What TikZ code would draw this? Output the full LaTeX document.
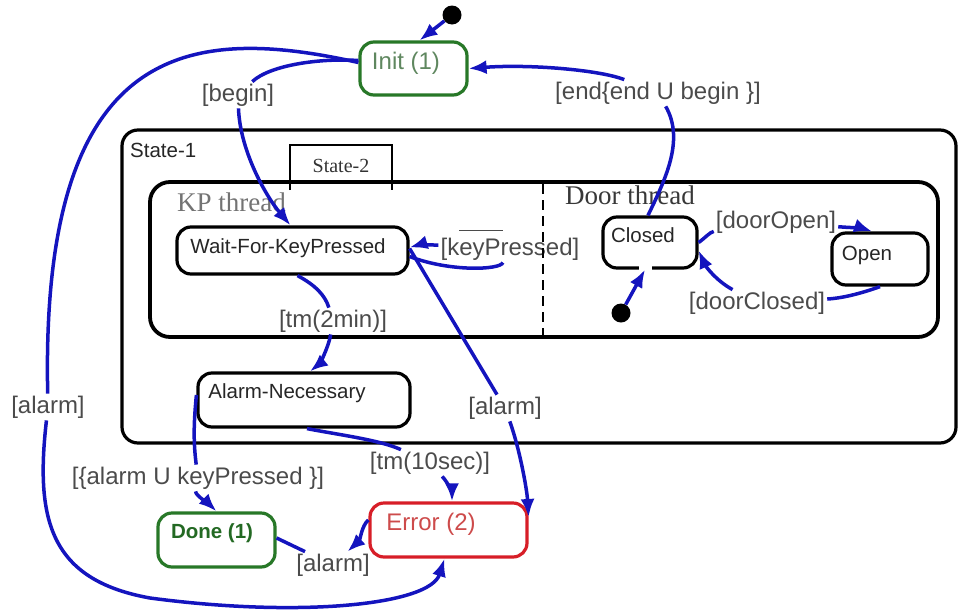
\documentclass[tikz,border=0pt]{standalone}
\usepackage{fontspec}
\newfontfamily\lsans{Liberation Sans}
\newfontfamily\lserif{Liberation Serif}
\usetikzlibrary{arrows.meta}
\definecolor{arrblue}{RGB}{20,20,190}
\definecolor{lblgray}{RGB}{75,75,75}
\definecolor{initgreen}{RGB}{95,135,95}
\definecolor{boxgreen}{RGB}{40,120,40}
\definecolor{donegreen}{RGB}{35,105,35}
\definecolor{errred}{RGB}{205,75,75}
\definecolor{boxred}{RGB}{215,30,40}
\begin{document}
\begin{tikzpicture}[x=1pt,y=-1pt,
  stbox/.style={draw=black, line width=3.2pt, rounded corners=14pt, inner sep=0pt},
  gbox/.style={stbox, draw=boxgreen},
  rbox/.style={stbox, draw=boxred},
  lbl/.style={font=\lsans\fontsize{24}{26}\selectfont, text=lblgray, inner sep=2pt},
  ntext/.style={font=\lsans\fontsize{20.5}{23}\selectfont, text=black!85, inner sep=0pt},
  thread/.style={font=\lserif\fontsize{27}{30}\selectfont, inner sep=0pt, anchor=west},
  arr/.style={draw=arrblue, line width=3.5pt, -{Latex[length=18pt,width=14pt]}},
  plain/.style={draw=arrblue, line width=3.5pt},
  dot/.style={circle, fill=black, inner sep=0pt, minimum size=19pt}]
\useasboundingbox (0,0) rectangle (959,611);

% containers
\node[stbox, rounded corners=16pt, minimum width=834pt, minimum height=313pt] (s1) at (539,286.5) {};
\node[ntext, anchor=west] (s1t) at (130,150) {State-1};
\draw[line width=2.8pt] (290,190) |- (392,145) -- (392,190);
\node[font=\lserif\fontsize{20}{22}\selectfont, text=black!80] (s2t) at (341,166) {State-2};
\node[stbox, line width=3.8pt, rounded corners=20pt, minimum width=788pt, minimum height=155pt] (s2) at (544,259.5) {};
\node[thread, text=black!55] (kpt) at (177,202) {KP thread};
\node[thread, text=black!78] (dt) at (565,195) {Door thread};

% states
\node[gbox, minimum width=107pt, minimum height=53pt] (init) at (413.5,68.5) {};
\node[font=\lsans\fontsize{24}{26}\selectfont, text=initgreen, inner sep=0pt] (initT) at (406,63) {Init (1)};
\node[stbox, minimum width=231pt, minimum height=47pt] (wait) at (292.5,250.5) {};
\node[ntext] (waitT) at (288,248) {Wait-For-KeyPressed};
\node[stbox, minimum width=212pt, minimum height=54pt] (alarmN) at (304,400) {};
\node[ntext] (alarmNT) at (287,393) {Alarm-Necessary};
\node[stbox, minimum width=94pt, minimum height=51pt] (closed) at (650,242.5) {};
\draw[white, line width=5pt] (639,268) -- (652,268);
\node[ntext] (closedT) at (643,235) {Closed};
\node[stbox, minimum width=96pt, minimum height=52pt] (open) at (880,259) {};
\node[ntext] (openT) at (867,255) {Open};
\node[gbox, minimum width=117pt, minimum height=54pt] (done) at (216.5,540) {};
\node[font=\lsans\bfseries\fontsize{20.5}{23}\selectfont, text=donegreen, inner sep=0pt] (doneT) at (212,533) {Done (1)};
\node[rbox, minimum width=157pt, minimum height=54pt] (error) at (448.5,530) {};
\node[font=\lsans\fontsize{24}{26}\selectfont, text=errred, inner sep=0pt] (errorT) at (431,524) {Error (2)};

\node[dot] (dot0) at (452,15) {};
\node[dot] (dot1) at (621,313) {};

% labels
\node[lbl] (lbBegin) at (238,95) {[begin]};
\node[lbl] (lbEnd) at (658,93) {[end\{end U begin \}]};
\node[lbl] (lbKP) at (510,245) {[k\rlap{\rule[1.0em]{1.8em}{1.8pt}}eyPressed]};
\node[lbl] (lbTm2) at (333,321) {[tm(2min)]};
\node[lbl] (lbAlarmR) at (505,408) {[alarm]};
\node[lbl] (lbAlarmL) at (48,407) {[alarm]};
\node[lbl] (lbAUK) at (198,478) {[\{alarm U keyPressed \}]};
\node[lbl] (lbTm10) at (430,463) {[tm(10sec)]};
\node[lbl] (lbAlarmB) at (333,565) {[alarm]};
\node[lbl] (lbDO) at (776,222) {[doorOpen]};
\node[lbl] (lbDC) at (757,303) {[doorClosed]};

% dashed separator
\draw[line width=2.5pt, dash pattern=on 10pt off 6pt] (543,184) -- (543,336);

% transitions
\draw[arr] (dot0) -- ([xshift=6pt]init.north);
\draw[arr] ([yshift=8pt]init.west) .. controls (320,58) and (270,65) .. (lbBegin)
  .. controls (240,150) and (265,195) .. ([xshift=-2pt]wait.north);
\draw[arr] ([yshift=6pt]init.west) .. controls (190,25) and (40,40) .. (lbAlarmL)
  .. controls (35,520) and (50,580) .. (150,598)
  .. controls (300,618) and (430,605) .. ([xshift=-4pt]error.south);
\draw[arr] ([xshift=-2pt]closed.north) .. controls (665,180) and (685,140) .. (lbEnd)
  .. controls (600,70) and (530,64) .. (init.east);
\draw[arr] ([yshift=-6pt]wait.east) .. controls (450,272) and (500,270) .. (lbKP)
  .. controls (425,245) and (418,245) .. ([yshift=3pt]wait.east);
\draw[arr] ([xshift=5pt]wait.south) .. controls (315,285) and (325,295) .. (lbTm2)
  .. controls (328,350) and (318,365) .. ([xshift=6pt]alarmN.north);
\draw[arr] ([yshift=2pt]wait.east) -- (lbAlarmR)
  .. controls (520,450) and (527,490) .. ([yshift=13pt]error.east);
\draw[arr] ([yshift=5pt]alarmN.west) .. controls (194,420) and (193,440) .. (lbAUK)
  .. controls (195,495) and (210,505) .. (done.north);
\draw[arr] ([xshift=3pt]alarmN.south) .. controls (340,435) and (380,440) .. (lbTm10)
  .. controls (450,485) and (452,495) .. ([xshift=3.5pt]error.north);
\draw[arr] ([yshift=10pt]error.west) .. controls (362,525) and (360,540) .. (lbAlarmB);
\draw[plain] (lbAlarmB) -- ([yshift=2pt]done.east);
\draw[arr] (closed.east) .. controls (705,238) and (710,232) .. (lbDO)
  .. controls (855,228) and (862,228) .. ([xshift=-8pt]open.north);
\draw[arr] (open.south) .. controls (865,292) and (845,298) .. (lbDC)
  .. controls (715,280) and (705,265) .. ([yshift=-8pt]closed.east);
\draw[arr] (dot1) -- ([xshift=-5pt]closed.south);
\end{tikzpicture}
\end{document}
